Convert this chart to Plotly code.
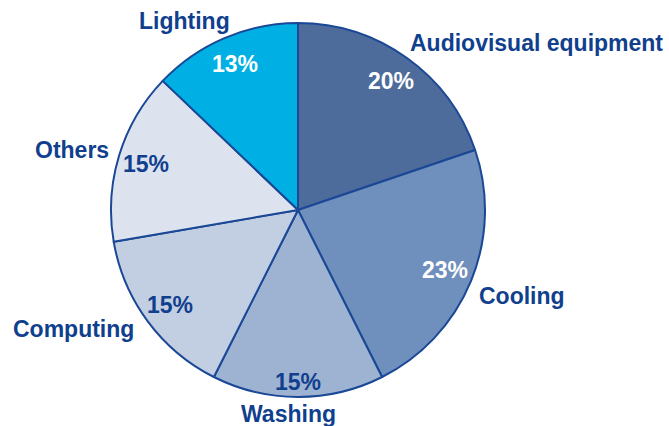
import math
import plotly.graph_objects as go

# Share of household electricity use by end use (%)
categories = ["Audiovisual equipment", "Cooling", "Washing", "Computing", "Others", "Lighting"]
shares = [20, 23, 15, 15, 15, 13]

# Styling
slice_colors = ["#4d6b9b", "#6f8fbc", "#9eb2d2", "#c2cee1", "#dde3ee", "#00afe3"]
pct_colors = ["white", "white", "#103f8e", "#103f8e", "#103f8e", "white"]
pct_radius = [0.85, 0.85, 0.92, 0.85, 0.85, 0.85]  # fraction of pie radius
name_pos = [(536, 43), (522, 296), (288, 414), (73, 329), (72, 150), (184, 21)]  # px

W, H = 669, 426
CX, CY, R = 298, 210, 187
NAVY = "#103f8e"
FONT = "Liberation Sans, Arial, sans-serif"

fig = go.Figure(go.Pie(
    labels=categories,
    values=shares,
    sort=False,
    direction="clockwise",
    rotation=0,
    textinfo="none",
    hoverinfo="label+value",
    marker=dict(colors=slice_colors, line=dict(color="#1a4896", width=2)),
    domain=dict(x=[(CX - R) / W, (CX + R) / W], y=[1 - (CY + R) / H, 1 - (CY - R) / H]),
    showlegend=False,
))

annotations = []
total = sum(shares)
cum = 0
for v, col, rf in zip(shares, pct_colors, pct_radius):
    mid = (cum + v / 2) / total * 2 * math.pi
    cum += v
    px = CX + rf * R * math.sin(mid)
    py = CY - rf * R * math.cos(mid)
    annotations.append(dict(
        x=px / W, y=1 - py / H, xref="paper", yref="paper",
        text=f"<b>{v}%</b>", showarrow=False, xanchor="center", yanchor="middle",
        font=dict(family=FONT, size=23, color=col),
    ))

for name, (px, py) in zip(categories, name_pos):
    annotations.append(dict(
        x=px / W, y=1 - py / H, xref="paper", yref="paper",
        text=f"<b>{name}</b>", showarrow=False, xanchor="center", yanchor="middle",
        font=dict(family=FONT, size=23, color=NAVY),
    ))

fig.update_layout(
    width=W, height=H,
    margin=dict(l=0, r=0, t=0, b=0),
    paper_bgcolor="white", plot_bgcolor="white",
    annotations=annotations,
)

fig.write_html("out.html")
